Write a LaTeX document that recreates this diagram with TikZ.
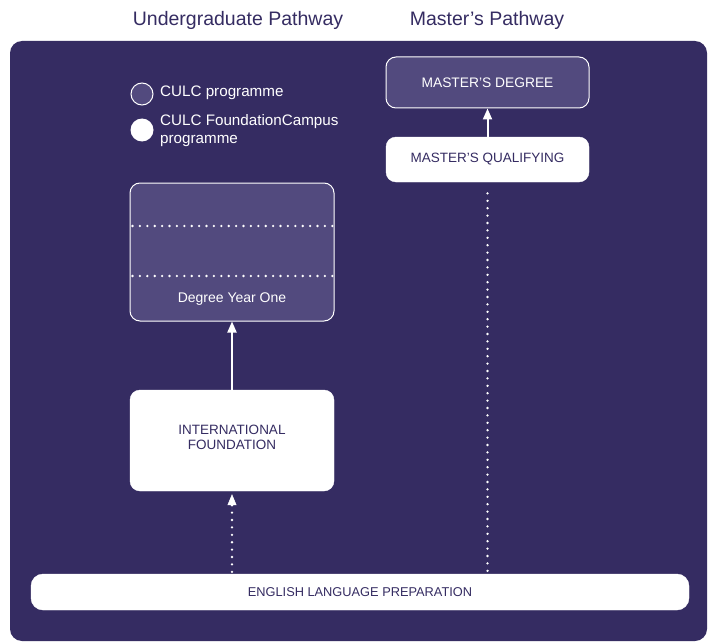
\documentclass[tikz,border=0pt]{standalone}
\usepackage{fontspec}
\setmainfont{Liberation Sans}
\usetikzlibrary{arrows.meta}
\definecolor{panel}{HTML}{352C62}
\definecolor{lightbox}{HTML}{524A7E}
\begin{document}
\begin{tikzpicture}[x=1pt,y=-1pt,
  wbox/.style={draw=white, fill=white, rounded corners=10pt, text=panel, align=center, font=\fontsize{13.5}{15}\selectfont, inner sep=0pt},
  pbox/.style={draw=white, line width=1pt, fill=lightbox, rounded corners=10pt, text=white, align=center, font=\fontsize{13.8}{15}\selectfont, inner sep=0pt},
  title/.style={text=panel, font=\fontsize{19.5}{22}\selectfont},
  legtext/.style={text=white, font=\fontsize{15.2}{18}\selectfont, anchor=west, align=left, inner sep=0pt},
  tip/.style={-{Triangle[width=9pt,length=11pt]}},
  solidarrow/.style={white, line width=2pt, tip},
  dotline/.style={white, line width=2.6pt, line cap=round, dash pattern=on 0pt off 7.4pt},
]
\useasboundingbox (0,0) rectangle (713,642);
\fill[white] (0,0) rectangle (713,642);
\fill[panel, rounded corners=12pt] (10,41) rectangle (707,641);

\node[title] (t1) at (238,20) {Undergraduate Pathway};
\node[title] (t2) at (487,20) {Master’s Pathway};

% legend
\node[circle, draw=white, line width=1pt, fill=lightbox, minimum size=22pt, inner sep=0pt] (c1) at (142,94) {};
\node[legtext] (l1) at (160,93) {CULC programme};
\node[circle, fill=white, minimum size=23pt, inner sep=0pt] (c2) at (142,130) {};
\node[legtext] (l2) at (160,130.5) {CULC FoundationCampus\\programme};

% degree box
\node[pbox, minimum width=204pt, minimum height=138pt] (deg) at (232,252) {};
\draw[dotline] ([xshift=3pt]deg.west |- 0,226) -- (deg.east |- 0,226);
\draw[dotline] ([xshift=3pt]deg.west |- 0,276) -- (deg.east |- 0,276);
\node[text=white, font=\fontsize{14}{16}\selectfont] (dyo) at (232,299) {Degree Year One};

% international foundation
\node[wbox, minimum width=204pt, minimum height=101pt] (inf) at (232,440.5) {};
\node[text=panel, align=center, font=\fontsize{13.5}{15.5}\selectfont] (inft) at (232,437.5) {INTERNATIONAL\\FOUNDATION};

% master's
\node[pbox, minimum width=203pt, minimum height=51pt] (md) at (487.5,82.5) {MASTER’S DEGREE};
\node[wbox, minimum width=203pt, minimum height=45pt] (mq) at (487.5,159.5) {MASTER’S QUALIFYING};

% english
\node[wbox, rounded corners=12pt, minimum width=658pt, minimum height=36pt, font=\fontsize{12.8}{15}\selectfont] (eng) at (360,592) {ENGLISH LANGUAGE PREPARATION};

% connectors
\draw[solidarrow] (inf.north) -- (deg.south);
\draw[solidarrow] (mq.north) -- (md.south);
\coordinate (e1) at (eng.north -| inf.south);
\coordinate (e2) at (eng.north -| mq.south);
\draw[dotline] ([yshift=2pt]e1) -- ([yshift=-14pt]inf.south);
\draw[white, line width=0.5pt, tip] ([yshift=-14pt]inf.south) -- ([yshift=-3pt]inf.south);
\draw[dotline] ([yshift=3pt]e2) -- ([yshift=-6pt]mq.south);
\end{tikzpicture}
\end{document}
